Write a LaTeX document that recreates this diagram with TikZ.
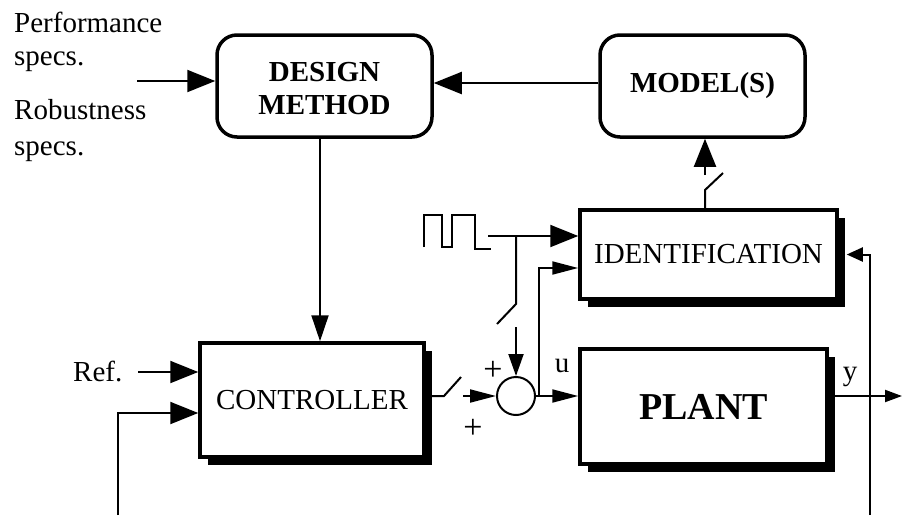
\documentclass[tikz,border=0pt]{standalone}
\usepackage{fontspec}
\setmainfont{Liberation Serif}
\usetikzlibrary{arrows.meta,shadows,calc}
\begin{document}
\begin{tikzpicture}[x=1pt,y=-1pt,
  every node/.style={font=\fontsize{29}{32}\selectfont},
  ln/.style={line width=2pt},
  big/.style={ln,-{Triangle[length=28pt,width=22pt]}},
  small/.style={ln,-{Triangle[length=26pt,width=13pt]}},
  rbox/.style={draw,line width=3.5pt,rounded corners=20pt,fill=white,
    font=\fontsize{29}{33}\selectfont\bfseries},
  sbox/.style={draw,line width=3.5pt,fill=white,
    drop shadow={shadow xshift=8pt,shadow yshift=-8pt,opacity=1,fill=black}},
  lbl/.style={anchor=base west,inner sep=0pt},
  clbl/.style={anchor=base,inner sep=0pt},
  plus/.style={inner sep=0pt,font=\fontsize{34}{36}\selectfont}
]
\useasboundingbox (0,0) rectangle (902,515);

% blocks
\node[rbox,minimum width=215pt,minimum height=102pt] (design) at (324.5,86)
  {\begin{tabular}{@{}c@{}}\rule{0pt}{34pt}DESIGN\\METHOD\end{tabular}};
\node[rbox,minimum width=205pt,minimum height=102pt] (model) at (702.5,86) {MODEL(S)};
\node[sbox,minimum width=257pt,minimum height=89pt] (ident) at (708.5,254.5) {IDENTIFICATION};
\node[sbox,minimum width=224pt,minimum height=114pt] (ctrl) at (312,400) {CONTROLLER};
\node[sbox,minimum width=247pt,minimum height=115pt,font=\fontsize{38}{40}\selectfont\bfseries] (plant) at (703.5,406.5) {PLANT};
\node[draw,circle,line width=2pt,minimum size=38pt,inner sep=0pt] (sum) at (516,396) {};

% texts
\node[lbl] (perf) at (14,32) {Performance};
\node[lbl] (spec1) at (14,65) {specs.};
\node[lbl] (rob) at (14,119) {Robustness};
\node[lbl] (spec2) at (14,155) {specs.};
\node[lbl] (ref) at (73,381) {Ref.};
\node[clbl] (ulbl) at (562,372) {u};
\node[clbl] (ylbl) at (850,380) {y};
\node[plus] (p1) at (493,371) {+};
\node[plus] (p2) at (473,429) {+};

% coordinates
\coordinate (specin) at (137,81);
\coordinate (refin) at (138,372);
\coordinate (fb1) at (118,515);
\coordinate (fbc) at (118,413);
\coordinate (s1a) at (444,396);
\coordinate (s1b) at (461,377);
\coordinate (s1c) at (463,396);
\coordinate (ub) at (539,396);
\coordinate (ut) at (539,268);
\coordinate (sqs) at (424,247);
\coordinate (sqo) at (488,236);
\coordinate (br) at (516,236);
\coordinate (s2a) at (516,304);
\coordinate (s2b) at (497,324);
\coordinate (s2c) at (516,327);
\coordinate (s3a) at (705,190);
\coordinate (s3b) at (723,173);
\coordinate (s3c) at (705,175);
\coordinate (yout) at (902,396);
\coordinate (fb2) at (870,515);
\coordinate (fb2t) at (870,254.5);

% connectors
\draw[big] (specin) -- (specin -| design.west);
\draw[big] ([yshift=3pt]model.west) -- ([yshift=3pt]design.east);
\draw[ln,-{Triangle[length=26pt,width=17pt]}] ([xshift=-4.5pt]design.south) -- ([xshift=-4.5pt]design.south |- ctrl.north);
\draw[big] (refin) -- (refin -| ctrl.west);
\draw[big] (fb1) -- (fbc) -- (fbc -| ctrl.west);

\draw[ln] (ctrl.east |- sum) -- (s1a) -- (s1b);
\draw[small] (s1c) -- (sum.west);
\draw[small] (sum.east) -- (sum -| plant.west);
\draw[small] (ub) -- (ut) -- (ut -| ident.west);

\draw[ln] (sqs) -- ++(0,-32) -- ++(18,0) -- ++(0,32) -- ++(10,0) -- ++(0,-32) -- ++(23,0) -- ++(0,34) -- ++(16,0);
\draw[big] (sqo) -- (sqo -| ident.west);
\draw[ln] (br) -- (s2a) -- (s2b);
\draw[ln,-{Triangle[length=22pt,width=15pt]}] (s2c) -- (sum.north);

\draw[ln] (s3a |- ident.north) -- (s3a) -- (s3b);
\draw[big] (s3c) -- (s3c |- model.south);

\draw[ln,-{Triangle[length=17pt,width=12pt]}] (plant.east |- sum) -- (yout);
\draw[ln,-{Triangle[length=16pt,width=14pt]}] (fb2) -- (fb2t) -- ([xshift=8pt]ident.east);
\end{tikzpicture}
\end{document}
